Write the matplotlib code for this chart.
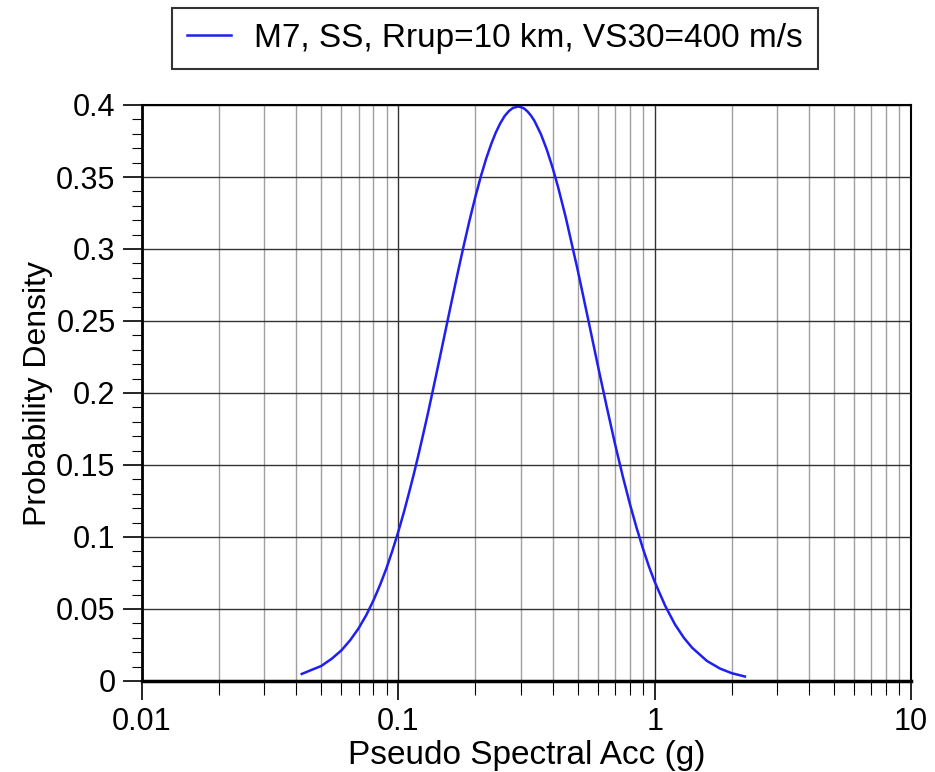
import matplotlib
matplotlib.use("Agg")
import matplotlib.pyplot as plt
from matplotlib.ticker import LogLocator, MultipleLocator, FixedLocator, FixedFormatter

plt.rcParams['font.family'] = ['Liberation Sans', 'DejaVu Sans']

# values
psa = [0.042, 0.046, 0.05, 0.055, 0.06, 0.065, 0.07, 0.075, 0.08, 0.085, 0.09, 0.095, 0.1, 0.105,
       0.11, 0.115, 0.12, 0.125, 0.13, 0.135, 0.14, 0.15, 0.16, 0.17, 0.18, 0.19, 0.2, 0.21, 0.22,
       0.23, 0.24, 0.25, 0.26, 0.27, 0.28, 0.293, 0.3, 0.31, 0.32, 0.33, 0.34, 0.36, 0.38, 0.4,
       0.42, 0.45, 0.5, 0.55, 0.6, 0.65, 0.7, 0.75, 0.8, 0.85, 0.9, 0.95, 1.0, 1.1, 1.2, 1.3,
       1.4, 1.6, 1.8, 2.0, 2.25]
density = [0.0049, 0.0078, 0.0104, 0.0155, 0.0213, 0.0285, 0.0366, 0.0458, 0.0560, 0.0670, 0.0786,
           0.0910, 0.1038, 0.1169, 0.1305, 0.1439, 0.1576, 0.1713, 0.1847, 0.1982, 0.2113, 0.2366,
           0.2604, 0.2824, 0.3025, 0.3206, 0.3366, 0.3506, 0.3626, 0.3726, 0.3809, 0.3874, 0.3924,
           0.3958, 0.3980, 0.3989, 0.3986, 0.3975, 0.3953, 0.3924, 0.3888, 0.3797, 0.3687, 0.3563,
           0.3430, 0.3219, 0.2860, 0.2513, 0.2192, 0.1905, 0.1648, 0.1425, 0.1231, 0.1064, 0.0920,
           0.0795, 0.0689, 0.0521, 0.0393, 0.0300, 0.0231, 0.0139, 0.0086, 0.0054, 0.0031]
label = "M7, SS, Rrup=10 km, VS30=400 m/s"

xticks = [0.01, 0.1, 1, 10]
xticklabels = ["0.01", "0.1", "1", "10"]
yticks = [0, 0.05, 0.1, 0.15, 0.2, 0.25, 0.3, 0.35, 0.4]
yticklabels = ["0", "0.05", "0.1", "0.15", "0.2", "0.25", "0.3", "0.35", "0.4"]

fig = plt.figure(figsize=(9.35, 7.72), dpi=100)
ax = fig.add_axes([142 / 935, 1 - 681 / 772, (911 - 142) / 935, (681 - 105) / 772])

line, = ax.plot(psa, density, color='#1f1ff0', lw=1.8, label=label)

ax.set_xscale('log')
ax.set_xlim(0.01, 10)
ax.set_ylim(0, 0.4)

ax.xaxis.set_major_locator(FixedLocator(xticks))
ax.xaxis.set_major_formatter(FixedFormatter(xticklabels))
ax.xaxis.set_minor_locator(LogLocator(base=10, subs=range(2, 10)))
ax.xaxis.set_minor_formatter(FixedFormatter([]))
ax.yaxis.set_major_locator(FixedLocator(yticks))
ax.yaxis.set_major_formatter(FixedFormatter(yticklabels))
ax.yaxis.set_minor_locator(MultipleLocator(0.01))

ax.grid(which='major', axis='both', color='#333333', lw=1.0)
ax.grid(which='minor', axis='x', color='#a0a0a0', lw=1.0)
ax.set_axisbelow(True)

ax.tick_params(which='major', direction='out', length=14, width=1.2, labelsize=22, pad=5)
ax.tick_params(which='minor', direction='out', length=7, width=0.8)
ax.tick_params(axis='x', which='minor', length=10)
for s in ax.spines.values():
    s.set_linewidth(1.5)
ax.spines['bottom'].set_linewidth(2.5)
ax.spines['left'].set_linewidth(2.0)

ax.set_xlabel("Pseudo Spectral Acc (g)", fontsize=24, labelpad=2)
ax.set_ylabel("Probability Density", fontsize=23, labelpad=2)

leg = fig.legend(handles=[line], loc='center', bbox_to_anchor=(495 / 935, 1 - 38 / 772),
                 fontsize=24, frameon=True, fancybox=False, edgecolor='black',
                 handlelength=1.3, handletextpad=0.7, borderpad=0.45, borderaxespad=0)
leg.get_frame().set_linewidth(1.5)

fig.savefig("out.png", dpi=100)
